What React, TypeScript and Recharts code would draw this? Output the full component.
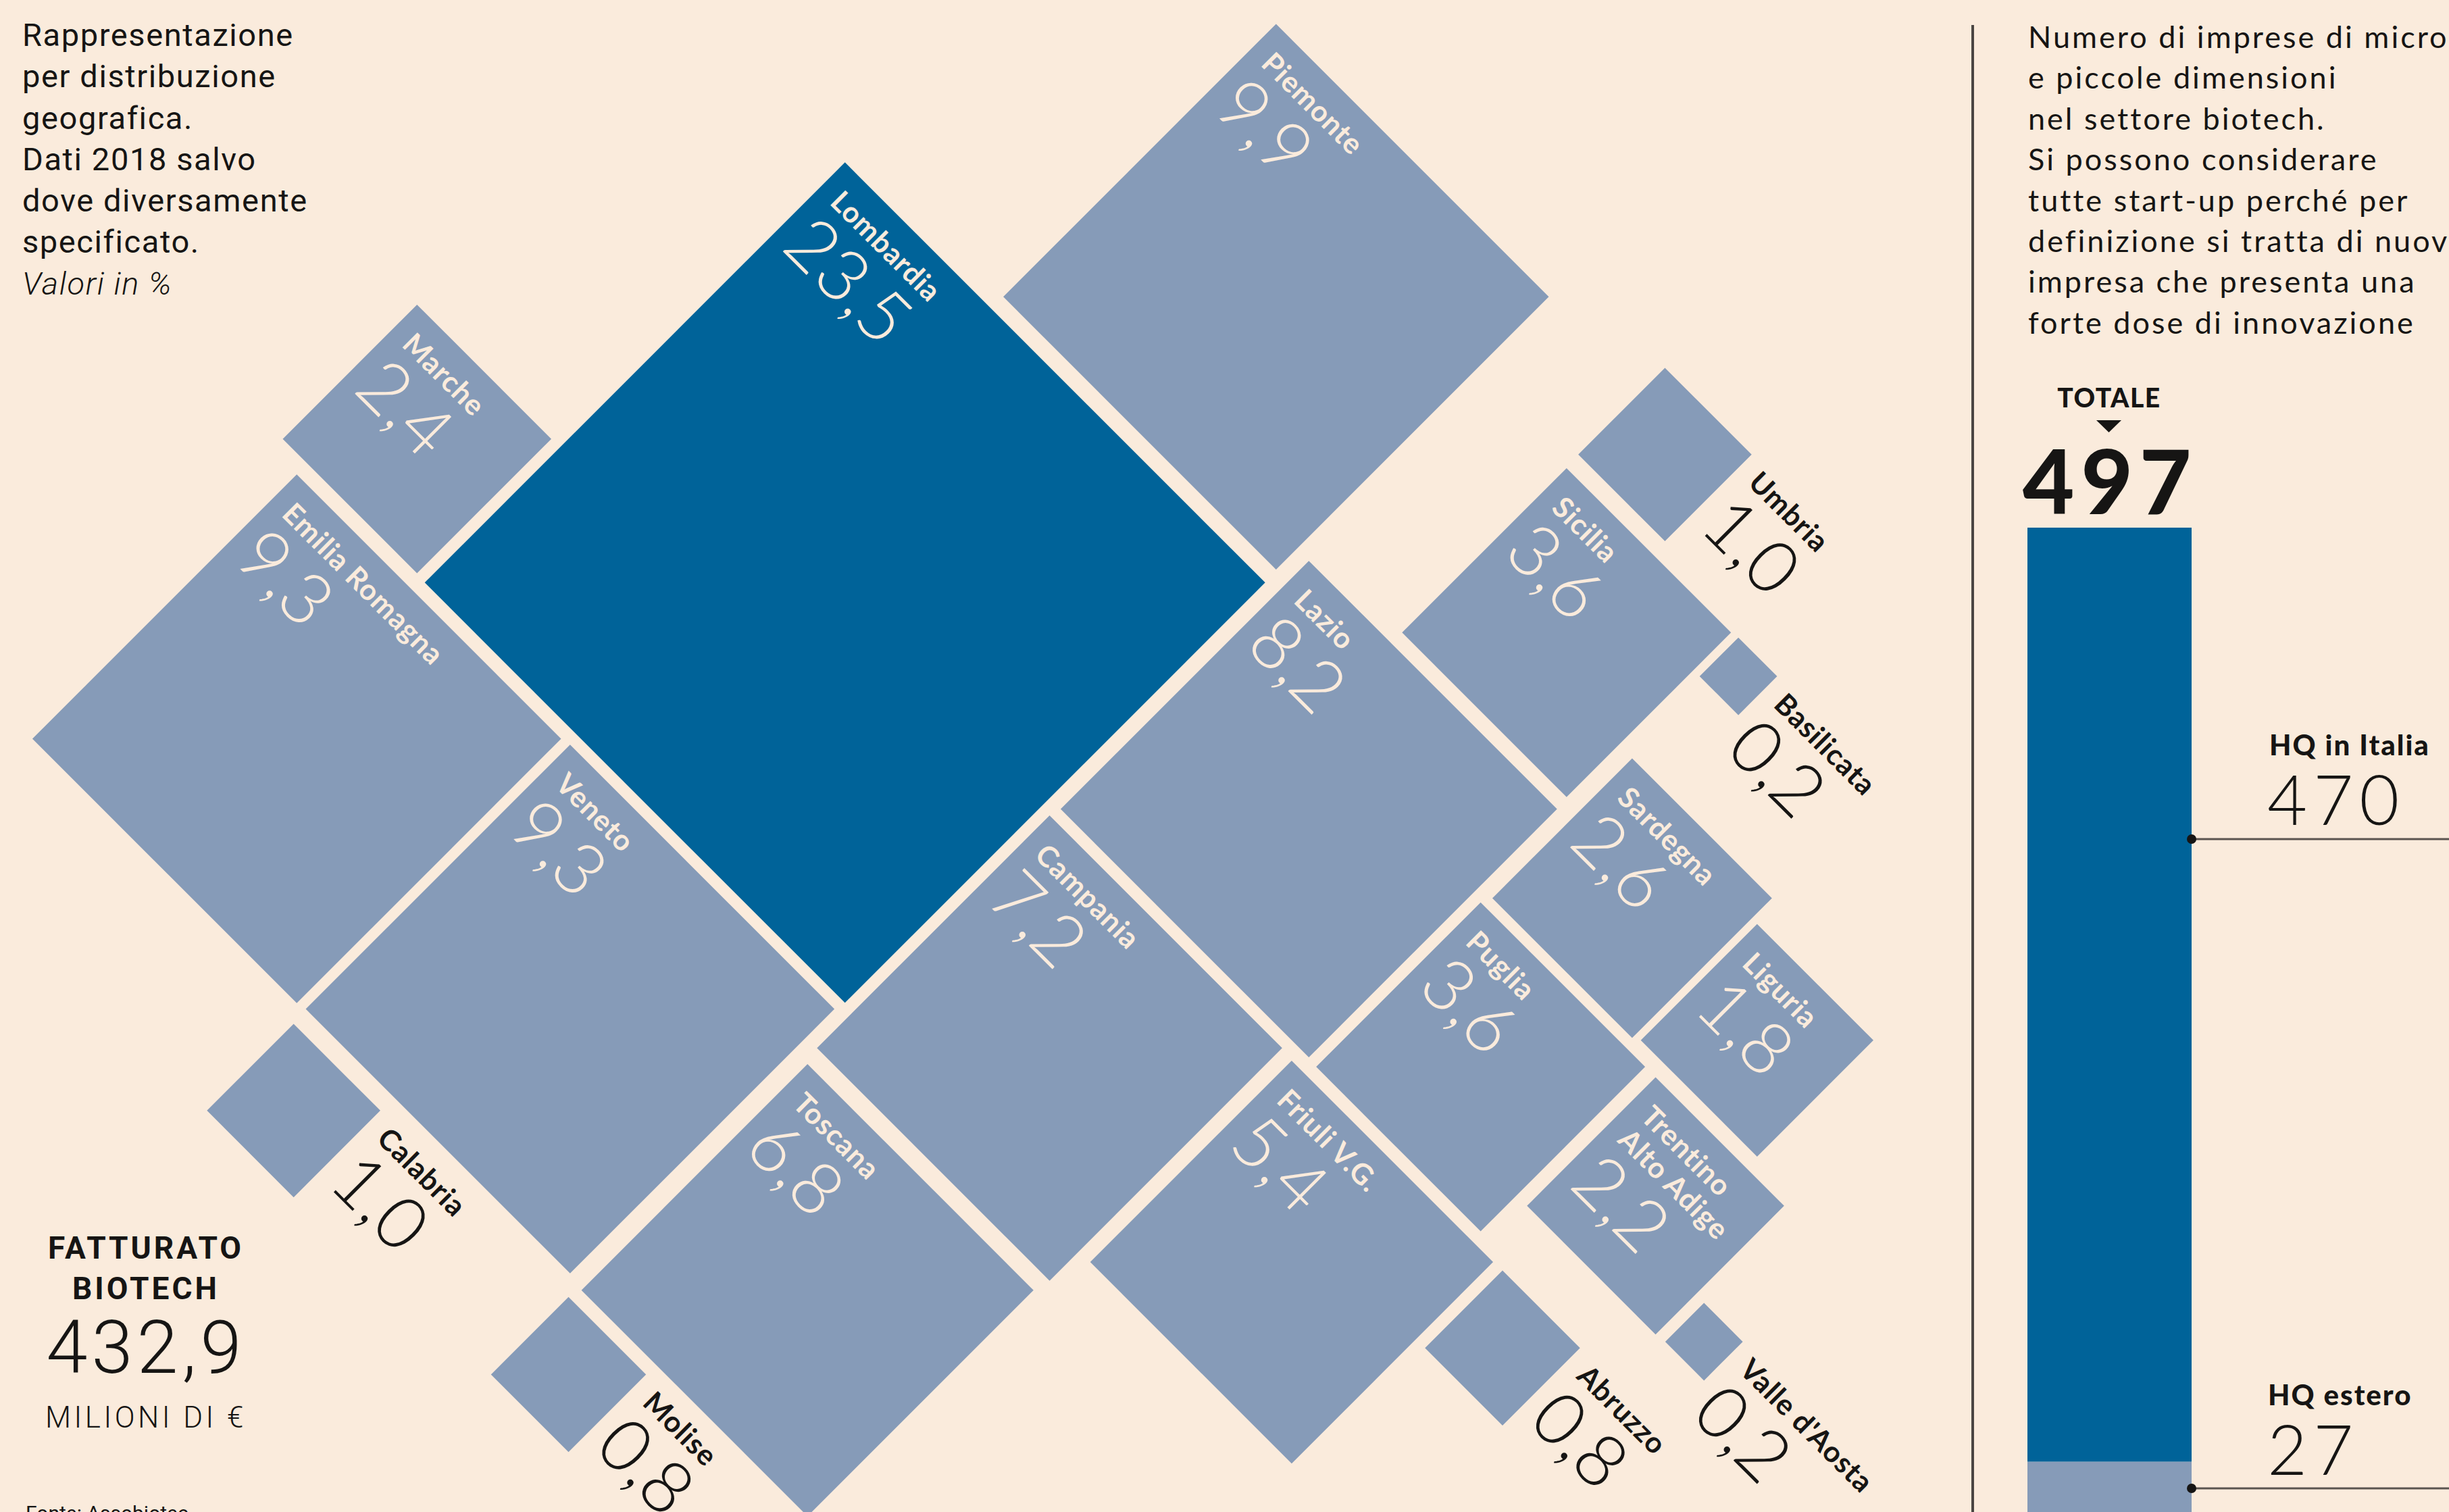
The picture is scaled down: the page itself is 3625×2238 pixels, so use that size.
import React from 'react';
import { ScatterChart, Scatter, XAxis, YAxis, ZAxis, BarChart, Bar } from 'recharts';

const W = 3625;
const H = 2238;
const BG = '#faebdc';
const LIGHT = '#869bb8';
const DARK = '#006399';
const INK = '#161514';
const GEO = "Lato, 'Open Sans', sans-serif";
const COND = "Roboto, 'Liberation Sans', sans-serif";

// quota del fatturato biotech per regione (%)
const regions = [
  'Piemonte', 'Lombardia', 'Marche', 'Emilia Romagna', 'Veneto', 'Calabria', 'Toscana',
  'Molise', 'Campania', 'Lazio', 'Friuli V.G.', 'Umbria', 'Sicilia', 'Basilicata',
  'Sardegna', 'Liguria', 'Puglia', 'Trentino\nAlto Adige', 'Abruzzo', "Valle d'Aosta",
];
const shares = [9.9, 23.5, 2.4, 9.3, 9.3, 1.0, 6.8, 0.8, 7.2, 8.2, 5.4, 1.0, 3.6, 0.2, 2.6, 1.8, 3.6, 2.2, 0.8, 0.2];
const highlight = 'Lombardia';

// mosaic layout: centre of each tile in layout units (page = 1568 x 968)
const layoutX = [817, 541, 267, 190, 365, 188, 517, 364, 672, 838, 827, 1066, 1003, 1113, 1045, 1125, 948, 1060, 962, 1091];
const layoutY = [190, 373, 281, 473, 646, 711, 826, 880, 671, 518, 808, 291, 405, 433, 575, 666, 683, 772, 863, 859];

// imprese micro e piccole
const hqLabels = ['HQ in Italia', 'HQ estero'];
const hqCounts = [470, 27];
const turnover = '432,9';

const introLeft = ['Rappresentazione', 'per distribuzione', 'geografica.', 'Dati 2018 salvo', 'dove diversamente', 'specificato.'];
const introRight = [
  'Numero di imprese di micro', 'e piccole dimensioni', 'nel settore biotech.', 'Si possono considerare',
  'tutte start-up perché per', 'definizione si tratta di nuova', 'impresa che presenta una', 'forte dose di innovazione',
];

const tiles = regions.map((name, i) => ({ name, share: shares[i], gx: layoutX[i], gy: layoutY[i] }));
const total = hqCounts.reduce((a, b) => a + b, 0);
const barData = [{ name: 'Totale', italia: hqCounts[0], estero: hqCounts[1] }];

const fmt = (v: number) => v.toFixed(1).replace('.', ',');

const Tile = (props: any) => {
  const { cx, cy, width, payload } = props;
  const h = width / 2;
  const edge = h * Math.SQRT2;
  const inside = payload.share > 1;
  const lines: string[] = payload.name.split('\n');
  const color = inside ? BG : INK;
  const u0 = inside ? 26 : edge + 26;
  const vName = inside ? 60 : 36;
  const vVal = vName + (lines.length - 1) * 48 + 98;
  return (
    <g>
      <polygon
        points={`${cx},${cy - h} ${cx + h},${cy} ${cx},${cy + h} ${cx - h},${cy}`}
        fill={payload.name === highlight ? DARK : LIGHT}
      />
      <g transform={`translate(${cx},${cy - h}) rotate(45)`}>
        {lines.map((l, i) => (
          <text key={i} x={u0} y={vName + i * 48} fill={color} fontFamily={GEO} fontWeight={700}
            fontSize={43} letterSpacing={1}>{l}</text>
        ))}
        <text x={u0 - 4} y={vVal} fill={color} fontFamily={GEO} fontWeight={300} fontSize={108}
          letterSpacing={0}>{fmt(payload.share)}</text>
      </g>
    </g>
  );
};

const abs = (x: number, y: number): React.CSSProperties => ({ position: 'absolute', left: x, top: y, whiteSpace: 'nowrap' });

export default function App() {
  return (
    <div style={{ position: 'absolute', left: 0, top: 0, width: W, height: H, overflow: 'hidden', background: BG, color: INK }}>
      <div style={{ position: 'absolute', left: 0, top: 0 }}>
        <ScatterChart width={W} height={H} margin={{ top: 0, right: 0, bottom: 0, left: 0 }}>
          <XAxis type="number" dataKey="gx" domain={[0, 1568]} hide />
          <YAxis type="number" dataKey="gy" domain={[0, 968]} reversed hide />
          <ZAxis type="number" dataKey="share" domain={[0, shares[1]]} range={[0, Math.PI * 622 * 622]} />
          <Scatter data={tiles} shape={(p: any) => <Tile {...p} />} isAnimationActive={false} />
        </ScatterChart>
      </div>

      <div style={{ ...abs(33, 21), fontFamily: COND, fontSize: 47, lineHeight: '61.3px', letterSpacing: 1.6 }}>
        {introLeft.map((l) => <div key={l}>{l}</div>)}
        <div style={{ fontStyle: 'italic', fontWeight: 300 }}>Valori in %</div>
      </div>

      <div style={{ ...abs(16, 1817), width: 400, textAlign: 'center', fontFamily: COND, fontWeight: 700, fontSize: 46, lineHeight: '60px', letterSpacing: 4 }}>
        <div>FATTURATO</div>
        <div>BIOTECH</div>
      </div>
      <div style={{ ...abs(16, 1935), width: 400, textAlign: 'center', fontFamily: COND, fontWeight: 300, fontSize: 110, lineHeight: '120px', letterSpacing: 6 }}>{turnover}</div>
      <div style={{ ...abs(16, 2071), width: 400, textAlign: 'center', fontFamily: COND, fontWeight: 300, fontSize: 44, lineHeight: '54px', letterSpacing: 4.5 }}>MILIONI DI €</div>
      <div style={{ ...abs(38, 2222), fontFamily: COND, fontSize: 30, lineHeight: '36px' }}>Fonte: Assobiotec</div>

      <div style={{ ...abs(3002, 24), fontFamily: GEO, fontSize: 45, lineHeight: '60.4px', letterSpacing: 3 }}>
        {introRight.map((l) => <div key={l}>{l}</div>)}
      </div>
      <div style={{ ...abs(3022, 565), width: 200, textAlign: 'center', fontFamily: GEO, fontWeight: 900, fontSize: 39, lineHeight: '46px', letterSpacing: 1.5 }}>TOTALE</div>
      <div style={{ ...abs(2994, 632), fontFamily: GEO, fontWeight: 900, fontSize: 132, lineHeight: '156px', letterSpacing: 10 }}>{total}</div>

      <div style={{ position: 'absolute', left: 3001, top: 781 }}>
        <BarChart width={243} height={1462} data={barData} margin={{ top: 0, right: 0, bottom: 0, left: 0 }} barCategoryGap={0}>
          <XAxis dataKey="name" hide />
          <YAxis type="number" domain={[0, total]} hide />
          <Bar dataKey="estero" stackId="hq" fill={LIGHT} isAnimationActive={false} />
          <Bar dataKey="italia" stackId="hq" fill={DARK} isAnimationActive={false} />
        </BarChart>
      </div>

      <svg style={{ position: 'absolute', left: 0, top: 0 }} width={W} height={H}>
        <line x1={2920} y1={37} x2={2920} y2={H} stroke="#4a4643" strokeWidth={4} />
        <polygon points="3103,622 3140,622 3121.5,640" fill={INK} />
        <line x1={3244} y1={1242} x2={W} y2={1242} stroke="#5a5450" strokeWidth={3} />
        <circle cx={3244} cy={1242} r={7} fill={INK} />
        <line x1={3244} y1={2203} x2={W} y2={2203} stroke="#5a5450" strokeWidth={3} />
        <circle cx={3244} cy={2203} r={7} fill={INK} />
      </svg>

      <div style={{ ...abs(3359, 1077), fontFamily: GEO, fontWeight: 900, fontSize: 42, lineHeight: '50px', letterSpacing: 2 }}>{hqLabels[0]}</div>
      <div style={{ ...abs(3356, 1122), fontFamily: GEO, fontWeight: 300, fontSize: 102, lineHeight: '120px', letterSpacing: 9 }}>{hqCounts[0]}</div>
      <div style={{ ...abs(3357, 2039), fontFamily: GEO, fontWeight: 900, fontSize: 42, lineHeight: '50px', letterSpacing: 2 }}>{hqLabels[1]}</div>
      <div style={{ ...abs(3356, 2084), fontFamily: GEO, fontWeight: 300, fontSize: 102, lineHeight: '120px', letterSpacing: 9 }}>{hqCounts[1]}</div>
    </div>
  );
}
